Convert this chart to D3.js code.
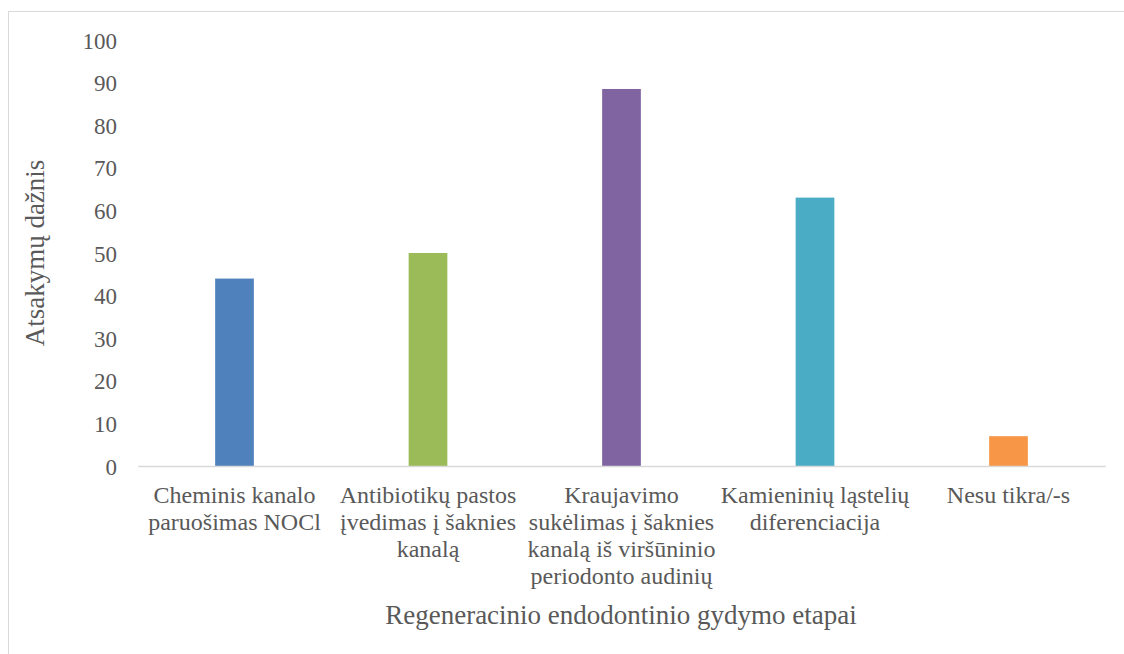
<!DOCTYPE html>
<html>
<head>
<meta charset="utf-8">
<script src="https://cdn.jsdelivr.net/npm/d3@7"></script>
<style>
  html, body { margin: 0; padding: 0; background: #ffffff; }
  svg { display: block; }
</style>
</head>
<body>
<svg id="chart" width="1124" height="654"></svg>
<script>
// Regeneracinio endodontinio gydymo etapai – atsakymų dažnis
const categories = [
  ["Cheminis kanalo", "paruošimas NOCl"],
  ["Antibiotikų pastos", "įvedimas į šaknies", "kanalą"],
  ["Kraujavimo", "sukėlimas į šaknies", "kanalą iš viršūninio", "periodonto audinių"],
  ["Kamieninių ląstelių", "diferenciacija"],
  ["Nesu tikra/-s"]
];
const values = [44, 50, 88.5, 63, 7];
const colors = ["#4f81bd", "#9bbb59", "#8064a2", "#4bacc6", "#f79646"];
const yTicks = [0, 10, 20, 30, 40, 50, 60, 70, 80, 90, 100];
const xTitle = "Regeneracinio endodontinio gydymo etapai";
const yTitle = "Atsakymų dažnis";

const svg = d3.select("#chart");
const font = "'Liberation Serif', 'Times New Roman', serif";
const textColor = "#595959";

// chart area frame
svg.append("rect")
  .attr("x", 8.5).attr("y", 11.5)
  .attr("width", 1200).attr("height", 700)
  .attr("fill", "none").attr("stroke", "#d9d9d9").attr("stroke-width", 1);

const keys = categories.map((c, i) => i);
const x = d3.scaleBand()
  .domain(keys)
  .range([137.75, 1105.25])
  .paddingInner(0.8)
  .paddingOuter(0.4);

const y = d3.scaleLinear().domain([0, 100]).range([466, 40]);

// bars
svg.append("g").selectAll("rect")
  .data(values)
  .join("rect")
  .attr("x", (d, i) => x(i))
  .attr("width", x.bandwidth())
  .attr("y", d => y(d))
  .attr("height", d => y(0) - y(d))
  .attr("fill", (d, i) => colors[i]);

// category axis
const xAxis = svg.append("g")
  .attr("transform", `translate(0,${y(0)})`)
  .call(d3.axisBottom(x).tickSize(0).tickFormat(""));
xAxis.select(".domain")
  .attr("stroke", "#d9d9d9").attr("stroke-width", 1.5);

// wrapped category labels
const labels = svg.append("g")
  .attr("font-family", font).attr("font-size", 24).attr("fill", textColor)
  .attr("text-anchor", "middle");
categories.forEach((lines, i) => {
  const t = labels.append("text")
    .attr("x", x(i) + x.bandwidth() / 2)
    .attr("y", 503);
  lines.forEach((ln, j) => {
    t.append("tspan")
      .attr("x", x(i) + x.bandwidth() / 2)
      .attr("dy", j === 0 ? 0 : 27)
      .text(ln);
  });
});

// value axis (labels only)
const yAxis = svg.append("g")
  .attr("transform", "translate(117,0)")
  .call(d3.axisLeft(y).tickValues(yTicks).tickSize(0).tickPadding(0));
yAxis.select(".domain").remove();
yAxis.selectAll("text")
  .attr("font-family", font).attr("font-size", 23).attr("fill", textColor)
  .attr("dy", "0.35em");

// axis titles
svg.append("text")
  .attr("x", 621).attr("y", 624)
  .attr("text-anchor", "middle")
  .attr("font-family", font).attr("font-size", 27).attr("fill", textColor)
  .text(xTitle);

svg.append("text")
  .attr("transform", "translate(44,253) rotate(-90)")
  .attr("text-anchor", "middle")
  .attr("font-family", font).attr("font-size", 27).attr("fill", textColor)
  .text(yTitle);
</script>
</body>
</html>
